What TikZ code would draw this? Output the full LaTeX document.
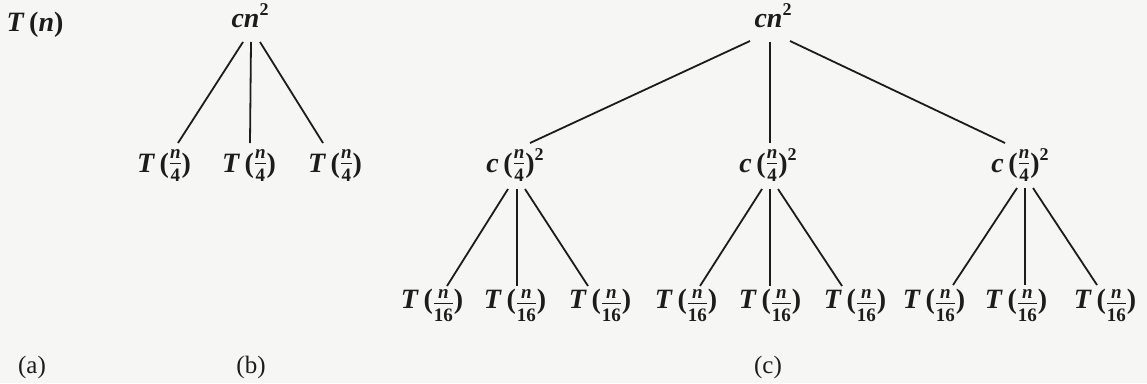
\documentclass[tikz,border=0pt]{standalone}
\usepackage{fontspec}
\setmainfont{Liberation Serif}
\definecolor{ink}{RGB}{28,28,28}
\definecolor{paper}{RGB}{246,246,244}
\newcommand{\fsz}{\fontsize{19}{19}\selectfont\bfseries}
\newcommand{\fr}[3]{\raisebox{-#1pt}{\vbox{\offinterlineskip\halign{\hfil##\hfil\cr{\fsz\itshape #2}\cr\noalign{\kern4pt\hrule height 0.9pt\kern5pt}{\fsz #3}\cr}}}}
\newcommand{\Tq}[2]{\textit{T}\,(\kern1pt\fr{#1}{n}{#2}\kern1pt)}
\newcommand{\sq}{\raisebox{12pt}{\fontsize{18}{18}\selectfont 2}}
\newcommand{\Cq}{\textit{c}\,(\kern1pt\fr{9}{n}{4}\kern1pt)\sq}
\newcommand{\Cn}{\textit{cn}\sq}
\tikzset{
  term/.style={inner sep=0pt, anchor=base, text=ink, font=\fontsize{28}{32}\selectfont\bfseries},
  lab/.style={inner sep=0pt, anchor=center, text=ink, font=\fontsize{25}{30}\selectfont},
  br/.style={draw=ink, line width=1.8pt}
}
\begin{document}
\begin{tikzpicture}[x=1pt,y=-1pt]
\fill[paper] (0,0) rectangle (1147,383);
\useasboundingbox (0,0) rectangle (1147,383);
% (a)
\node[term] (a0) at (35,31) {\textit{T}\,(\textit{n})};
% (b)
\node[term] (b0) at (250,27) {\Cn};
\node[term] (b1) at (164,172) {\Tq{9}{4}};
\node[term] (b2) at (249,172) {\Tq{9}{4}};
\node[term] (b3) at (335,172) {\Tq{9}{4}};
\draw[br] ([shift={(-7,15)}]b0.base) -- ([shift={(14,-29)}]b1.base);
\draw[br] ([shift={(1,15)}]b0.base) -- ([shift={(1,-29)}]b2.base);
\draw[br] ([shift={(10,15)}]b0.base) -- ([shift={(-12,-29)}]b3.base);
% (c)
\node[term] (c0) at (773,27) {\Cn};
\node[term] (c1) at (515,172) {\Cq};
\node[term] (c2) at (768,172) {\Cq};
\node[term] (c3) at (1020,172) {\Cq};
\draw[br] ([shift={(-23,14)}]c0.base) -- ([shift={(15,-29)}]c1.base);
\draw[br] ([shift={(-3,15)}]c0.base) -- ([shift={(2,-29)}]c2.base);
\draw[br] ([shift={(17,14)}]c0.base) -- ([shift={(-15,-29)}]c3.base);
\foreach \i/\x in {1/432,2/515,3/600,4/686,5/770,6/855,7/934,8/1016,9/1105}{
  \node[term] (d\i) at (\x,308) {\Tq{13}{16}};
}
\draw[br] ([shift={(-7,17)}]c1.base) -- ([shift={(15,-22)}]d1.base);
\draw[br] ([shift={(2,17)}]c1.base) -- ([shift={(2,-22)}]d2.base);
\draw[br] ([shift={(10,17)}]c1.base) -- ([shift={(-12,-22)}]d3.base);
\draw[br] ([shift={(-6,17)}]c2.base) -- ([shift={(14,-22)}]d4.base);
\draw[br] ([shift={(2,17)}]c2.base) -- ([shift={(0,-22)}]d5.base);
\draw[br] ([shift={(10,17)}]c2.base) -- ([shift={(-13,-22)}]d6.base);
\draw[br] ([shift={(-3,16)}]c3.base) -- ([shift={(19,-23)}]d7.base);
\draw[br] ([shift={(5,16)}]c3.base) -- ([shift={(9,-23)}]d8.base);
\draw[br] ([shift={(13,16)}]c3.base) -- ([shift={(-8,-23)}]d9.base);
% labels
\node[lab] (la) at (32,367) {(a)};
\node[lab] (lb) at (251,367) {(b)};
\node[lab] (lc) at (768,367) {(c)};
\end{tikzpicture}
\end{document}
